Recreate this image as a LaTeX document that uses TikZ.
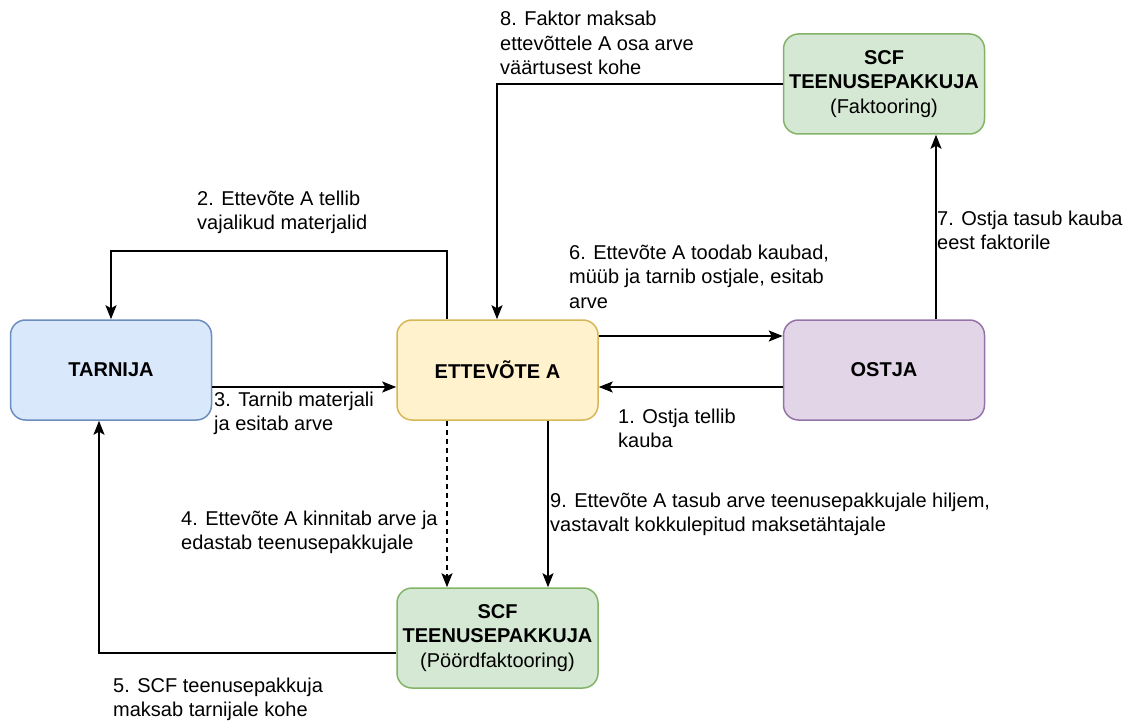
\documentclass[tikz,border=0pt]{standalone}
\usepackage{fontspec}
\setmainfont{Liberation Sans}
\usetikzlibrary{arrows.meta}
\definecolor{bluefill}{HTML}{DAE8FC}\definecolor{bluedraw}{HTML}{6C8EBF}
\definecolor{yelfill}{HTML}{FFF2CC}\definecolor{yeldraw}{HTML}{D6B656}
\definecolor{purfill}{HTML}{E1D5E7}\definecolor{purdraw}{HTML}{9673A6}
\definecolor{grnfill}{HTML}{D5E8D4}\definecolor{grndraw}{HTML}{82B366}
\tikzset{
  box/.style={rectangle, rounded corners=15pt, line width=1.5pt,
    minimum width=201pt, minimum height=100pt, inner sep=0pt,
    align=center, font=\fontsize{20}{24.5}\selectfont\bfseries},
  bluebox/.style={box, fill=bluefill, draw=bluedraw},
  yelbox/.style={box, fill=yelfill, draw=yeldraw},
  purbox/.style={box, fill=purfill, draw=purdraw},
  grnbox/.style={box, fill=grnfill, draw=grndraw},
  lbl/.style={anchor=north west, inner sep=0pt, align=left,
    font=\fontsize{20}{24.5}\selectfont},
  arr/.style={line width=1.5pt, -{Stealth[length=14pt,width=11pt,inset=3pt]}},
}
\begin{document}
\begin{tikzpicture}[x=1pt,y=-1pt]
\useasboundingbox (0,0) rectangle (1130,722);

% boxes
\node[bluebox] (tar) at (111,370) {TARNIJA};
\node[yelbox] (ett) at (497.5,370) {ETTEVÕTE A};
\node[purbox] (ost) at (884,370) {OSTJA};
\node[grnbox] (scft) at (884,84) {SCF\\TEENUSEPAKKUJA\\{\mdseries (Faktooring)}};
\node[grnbox] (scfb) at (497.5,638) {SCF\\TEENUSEPAKKUJA\\{\mdseries (Pöördfaktooring)}};

% connectors
\draw[arr] ([xshift=-50.5pt]ett.north) -- ++(0,-68) -| (tar.north);
\draw[arr] ([yshift=-17pt]tar.east) -- ([yshift=-17pt]ett.west);
\draw[arr] ([yshift=34pt]ett.east) -- ([yshift=34pt]ost.west);
\draw[arr] ([yshift=-17pt]ost.west) -- ([yshift=-17pt]ett.east);
\draw[arr] ([xshift=52pt]ost.north) -- ([xshift=52pt]scft.south);
\draw[arr] (scft.west) -| ([xshift=-0.5pt]ett.north);
\draw[arr, dash pattern=on 5pt off 4pt] ([xshift=-50.5pt]ett.south) -- ([xshift=-50.5pt]scfb.north);
\draw[arr] ([xshift=50.5pt]ett.south) -- ([xshift=50.5pt]scfb.north);
\draw[arr] ([yshift=-15pt]scfb.west) -| ([xshift=-12pt]tar.south);

% labels
\node[lbl] (l8) at (500,11) {8. Faktor maksab\\ettevõttele A osa arve\\väärtusest kohe};
\node[lbl] (l2) at (197,190.5) {2. Ettevõte A tellib\\vajalikud materjalid};
\node[lbl] (l6) at (569,244.5) {6. Ettevõte A toodab kaubad,\\müüb ja tarnib ostjale, esitab\\arve};
\node[lbl] (l3) at (214,391.5) {3. Tarnib materjali\\ja esitab arve};
\node[lbl] (l1) at (618,408.5) {1. Ostja tellib\\kauba};
\node[lbl] (l7) at (937,210.5) {7. Ostja tasub kauba\\eest faktorile};
\node[lbl] (l4) at (181,510.5) {4. Ettevõte A kinnitab arve ja\\edastab teenusepakkujale};
\node[lbl] (l9) at (550,492.5) {9. Ettevõte A tasub arve teenusepakkujale hiljem,\\vastavalt kokkulepitud maksetähtajale};
\node[lbl] (l5) at (113,677.5) {5. SCF teenusepakkuja\\maksab tarnijale kohe};
\end{tikzpicture}
\end{document}
